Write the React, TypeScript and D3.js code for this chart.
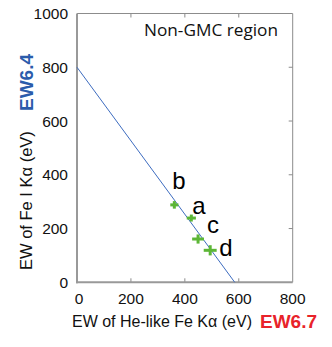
import React, { useEffect, useRef } from 'react';
import * as d3 from 'd3';

// tick values
const xTicks = [0, 200, 400, 600, 800];
const yTicks = [0, 200, 400, 600, 800, 1000];

// fitted line EW6.4 vs EW6.7 (endpoints)
const lineX = [0, 585];
const lineY = [800, 0];

// measured regions
const pointLabels = ['b', 'a', 'c', 'd'];
const pointX = [361, 424, 449, 494];
const pointY = [288, 239, 161, 119];
const errX = [15, 17, 22, 24];
const errY = [14, 13, 17, 19];

function App() {
  const svgRef = useRef<SVGSVGElement>(null);

  useEffect(() => {
    const W = 332, H = 347;
    const left = 77, right = 292.7, top = 13.5, bottom = 282.3;
    const font = 'Liberation Sans, Arial, Helvetica, sans-serif';

    const svg = d3.select(svgRef.current);
    svg.selectAll('*').remove();
    svg.attr('width', W).attr('height', H);

    const x = d3.scaleLinear().domain([0, 800]).range([left, right]);
    const y = d3.scaleLinear().domain([0, 1000]).range([bottom, top]);

    svg.append('rect').attr('width', W).attr('height', H).attr('fill', '#fff');

    // frame: thin top/right
    svg.append('line').attr('x1', left).attr('x2', right).attr('y1', top).attr('y2', top)
      .attr('stroke', '#8c8c8c').attr('stroke-width', 1);
    svg.append('line').attr('x1', right).attr('x2', right).attr('y1', top).attr('y2', bottom)
      .attr('stroke', '#8c8c8c').attr('stroke-width', 1);

    // inner ticks
    const inner = svg.append('g').attr('stroke', '#8c8c8c').attr('stroke-width', 1);
    xTicks.slice(1, -1).forEach(t => {
      inner.append('line').attr('x1', x(t)).attr('x2', x(t)).attr('y1', top).attr('y2', top + 4);
      inner.append('line').attr('x1', x(t)).attr('x2', x(t)).attr('y1', bottom).attr('y2', bottom - 4);
    });
    yTicks.slice(1, -1).forEach(t => {
      inner.append('line').attr('x1', right).attr('x2', right - 4).attr('y1', y(t)).attr('y2', y(t));
    });

    // thick left/bottom axes
    svg.append('line').attr('x1', left).attr('x2', left).attr('y1', top).attr('y2', bottom + 1)
      .attr('stroke', '#999').attr('stroke-width', 2);
    svg.append('line').attr('x1', left - 1).attr('x2', right).attr('y1', bottom).attr('y2', bottom)
      .attr('stroke', '#999').attr('stroke-width', 2);

    // tick labels
    svg.append('g').selectAll('text').data(xTicks).enter().append('text')
      .attr('x', d => x(d) + (d === 0 ? 2 : 0))
      .attr('y', 304)
      .attr('text-anchor', 'middle')
      .style('font-family', font).style('font-size', '15.5px').attr('fill', '#111')
      .text(d => d);
    svg.append('g').selectAll('text').data(yTicks).enter().append('text')
      .attr('x', 68)
      .attr('y', d => y(d))
      .attr('dy', '0.36em')
      .attr('text-anchor', 'end')
      .style('font-family', font).style('font-size', '15.5px').attr('fill', '#111')
      .text(d => d);

    // fitted line
    svg.append('line')
      .attr('x1', x(lineX[0])).attr('y1', y(lineY[0]))
      .attr('x2', x(lineX[1])).attr('y2', y(lineY[1]))
      .attr('stroke', '#3d6cc0').attr('stroke-width', 1);

    // points as crosses
    const pts = svg.append('g').attr('stroke', '#5cb636').attr('stroke-width', 3);
    pointX.forEach((px, i) => {
      pts.append('line')
        .attr('x1', x(px - errX[i])).attr('x2', x(px + errX[i]))
        .attr('y1', y(pointY[i])).attr('y2', y(pointY[i]));
      pts.append('line')
        .attr('x1', x(px)).attr('x2', x(px))
        .attr('y1', y(pointY[i] - errY[i])).attr('y2', y(pointY[i] + errY[i]));
    });

    // point labels
    const labelOffsets = [[-2, -16], [1, -4], [9, -6], [9, 6]];
    svg.append('g').selectAll('text').data(pointLabels).enter().append('text')
      .attr('x', (d, i) => x(pointX[i]) + labelOffsets[i][0])
      .attr('y', (d, i) => y(pointY[i]) + labelOffsets[i][1])
      .style('font-family', font).style('font-size', '24px').attr('fill', '#000')
      .text(d => d);

    // region label
    svg.append('text')
      .attr('x', 144).attr('y', 36)
      .attr('textLength', 134).attr('lengthAdjust', 'spacingAndGlyphs')
      .style('font-family', 'Open Sans, sans-serif').style('font-size', '16.5px').attr('fill', '#111')
      .text('Non-GMC region');

    // x title
    svg.append('text')
      .attr('x', 72).attr('y', 327)
      .style('font-family', font).style('font-size', '16px').attr('fill', '#111')
      .text('EW of He-like Fe K\u03b1 (eV)');
    svg.append('text')
      .attr('x', 260).attr('y', 328)
      .style('font-family', font).style('font-size', '19px').style('font-weight', 'bold')
      .attr('fill', '#e8232a')
      .text('EW6.7');

    // y title
    svg.append('text')
      .attr('transform', 'translate(32,270) rotate(-90)')
      .style('font-family', font).style('font-size', '16.5px').attr('fill', '#111')
      .text('EW of Fe I K\u03b1 (eV)');
    svg.append('text')
      .attr('transform', 'translate(33,111) rotate(-90)')
      .style('font-family', font).style('font-size', '19px').style('font-weight', 'bold')
      .attr('fill', '#2b5cab')
      .text('EW6.4');
  }, []);

  return (
    <svg ref={svgRef} style={{ position: 'absolute', left: 0, top: 0 }} />
  );
}

export default App;
